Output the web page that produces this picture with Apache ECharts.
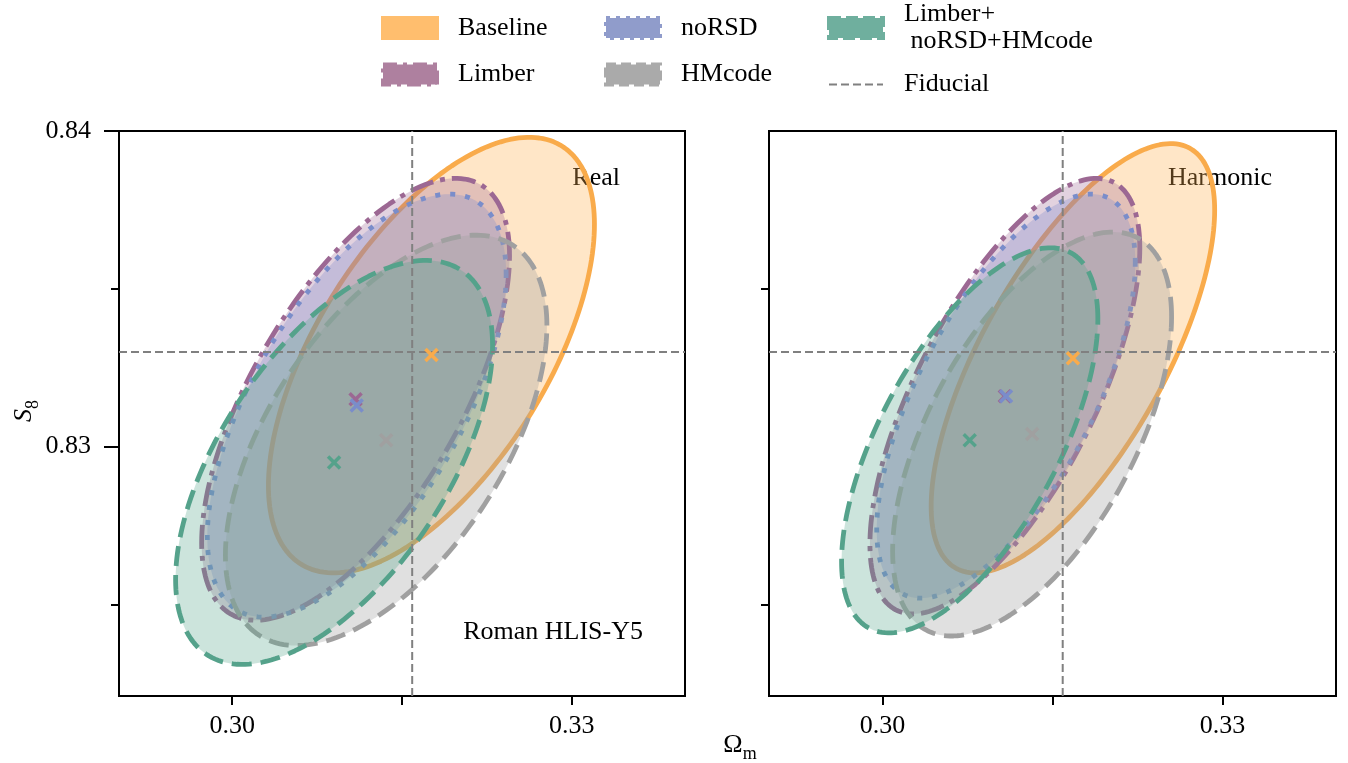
<!DOCTYPE html>
<html>
<head>
<meta charset="utf-8">
<title>S8 vs Omega_m forecasts</title>
<script src="https://cdn.jsdelivr.net/npm/echarts@6.0.0/dist/echarts.min.js"></script>
<style>
  html, body { margin: 0; padding: 0; background: #fff; }
  #chart { width: 1348px; height: 763px; }
</style>
</head>
<body>
<div id="chart"></div>
<script>
const FONT = '"Liberation Serif", "Times New Roman", serif';

// model names, in plotting / legend order
const modelNames = ['Baseline', 'Limber', 'noRSD', 'HMcode', 'Limber+\n noRSD+HMcode'];
const panelTitles = ['Real', 'Harmonic'];

const fiducialOm = 0.3159;
const fiducialS8 = 0.833;

// real-space panel: contour centres, half extents and correlation
const realOm = [0.3176, 0.3109, 0.3110, 0.3136, 0.3090];
const realS8 = [0.8329, 0.8315, 0.8313, 0.8302, 0.8295];
const realOmExtent = [0.0144, 0.0136, 0.0132, 0.0142, 0.0140];
const realS8Extent = [0.0069, 0.0070, 0.0067, 0.0065, 0.0064];
const realCorr = [0.60, 0.65, 0.62, 0.56, 0.58];

// harmonic-space panel
const harmOm = [0.3168, 0.3108, 0.3109, 0.3132, 0.3077];
const harmS8 = [0.8328, 0.8316, 0.8316, 0.8304, 0.8302];
const harmOmExtent = [0.0125, 0.0119, 0.0114, 0.0123, 0.0113];
const harmS8Extent = [0.0068, 0.0069, 0.0064, 0.0064, 0.0061];
const harmCorr = [0.69, 0.68, 0.66, 0.58, 0.63];

// axis ranges and ticks
const omRange = [0.29, 0.34];
const s8Range = [0.8221, 0.84];
const xTicks = [0.30, 0.315, 0.33];
const xTickLabels = [0.30, 0.33];
const yMajorTicks = [0.83, 0.84];
const yMinorTicks = [0.825, 0.835];

const edgeColors = ['#f9ab4b', '#9c6893', '#7a8dca', '#a0a0a0', '#55a28b'];
const fillColors = ['rgba(255,176,80,0.32)', 'rgba(160,105,150,0.30)', 'rgba(125,140,205,0.30)',
                    'rgba(160,160,160,0.33)', 'rgba(85,165,140,0.30)'];
const legendColors = ['#ffbe6e', '#ae809f', '#909ccb', '#aaaaaa', '#6faf9e'];
const dashes = [null, [24, 7, 5, 7], [5, 10], [20, 9], [20, 9]];
const legendDashes = ['solid', [14, 6, 4, 6], [4, 6], [10, 5], [12, 5]];

const panels = [
    { om: realOm, s8: realS8, wOm: realOmExtent, wS8: realS8Extent, corr: realCorr },
    { om: harmOm, s8: harmS8, wOm: harmOmExtent, wS8: harmS8Extent, corr: harmCorr }
];

function ellipseRenderer(k) {
    return function (params, api) {
        const cx = api.value(0), cy = api.value(1);
        const wx = api.value(2), wy = api.value(3), r = api.value(4);
        const q = Math.sqrt(1 - r * r);
        const pts = [];
        for (let i = 0; i < 200; i++) {
            const t = i / 200 * Math.PI * 2;
            pts.push(api.coord([cx + wx * Math.cos(t), cy + wy * (r * Math.cos(t) + q * Math.sin(t))]));
        }
        const style = { fill: fillColors[k], stroke: edgeColors[k], lineWidth: 4.8, lineCap: 'butt', lineJoin: 'round' };
        if (dashes[k]) style.lineDash = dashes[k];
        return { type: 'polygon', shape: { points: pts }, style: style };
    };
}

function crossRenderer(params, api) {
    const p = api.coord([api.value(0), api.value(1)]);
    const h = 6;
    const c = edgeColors[params.dataIndex];
    return {
        type: 'group',
        children: [
            { type: 'line', shape: { x1: p[0] - h, y1: p[1] - h, x2: p[0] + h, y2: p[1] + h }, style: { stroke: c, lineWidth: 3.5 } },
            { type: 'line', shape: { x1: p[0] - h, y1: p[1] + h, x2: p[0] + h, y2: p[1] - h }, style: { stroke: c, lineWidth: 3.5 } }
        ]
    };
}

const grids = [
    { left: 119, top: 131, width: 566, height: 565 },
    { left: 769, top: 131, width: 567, height: 565 }
].map(g => Object.assign(g, { show: true, borderColor: '#000', borderWidth: 2, backgroundColor: 'transparent' }));

const axisFont = { fontFamily: FONT, fontSize: 26, color: '#000' };

const xAxes = [0, 1].map(p => ({
    type: 'value', gridIndex: p, min: omRange[0], max: omRange[1],
    splitLine: { show: false },
    axisLine: { show: true, onZero: false, lineStyle: { color: '#000', width: 2 } },
    axisTick: { show: true, customValues: xTicks, length: 9, lineStyle: { color: '#000', width: 2 } },
    axisLabel: Object.assign({ customValues: xTickLabels, margin: 17, formatter: v => v.toFixed(2) }, axisFont)
}));

const yAxes = [];
[0, 1].forEach(p => {
    yAxes.push({
        type: 'value', gridIndex: p, min: s8Range[0], max: s8Range[1],
        splitLine: { show: false },
        axisLine: { show: true, onZero: false, lineStyle: { color: '#000', width: 2 } },
        axisTick: { show: p === 0, customValues: yMajorTicks, length: 15, lineStyle: { color: '#000', width: 2 } },
        axisLabel: Object.assign({ show: p === 0, customValues: yMajorTicks, margin: 28, formatter: v => v.toFixed(2) }, axisFont)
    });
    yAxes.push({
        type: 'value', gridIndex: p, min: s8Range[0], max: s8Range[1], position: 'left',
        splitLine: { show: false },
        axisLine: { show: false },
        axisTick: { show: true, customValues: yMinorTicks, length: 8, lineStyle: { color: '#000', width: 2 } },
        axisLabel: { show: false }
    });
});

const fiducialStyle = { color: '#808080', width: 2, type: [8, 4] };

const series = [];
panels.forEach((pan, p) => {
    modelNames.forEach((name, k) => {
        series.push({
            type: 'custom', name: name,
            xAxisIndex: p, yAxisIndex: 2 * p,
            renderItem: ellipseRenderer(k),
            itemStyle: { color: legendColors[k] },
            encode: { x: 0, y: 1 },
            data: [[pan.om[k], pan.s8[k], pan.wOm[k], pan.wS8[k], pan.corr[k]]],
            silent: true, z: 2
        });
    });
    // fiducial cross-hair, spanning the full axis ranges
    series.push({
        type: 'line', name: 'Fiducial',
        xAxisIndex: p, yAxisIndex: 2 * p,
        symbol: 'none', silent: true, z: 5,
        itemStyle: { color: '#808080' },
        lineStyle: fiducialStyle,
        data: [[fiducialOm, s8Range[0]], [fiducialOm, s8Range[1]]]
    });
    series.push({
        type: 'line', name: 'Fiducial',
        xAxisIndex: p, yAxisIndex: 2 * p,
        symbol: 'none', silent: true, z: 5,
        itemStyle: { color: '#808080' },
        lineStyle: fiducialStyle,
        data: [[omRange[0], fiducialS8], [omRange[1], fiducialS8]]
    });
    series.push({
        type: 'custom', name: 'best fit ' + panelTitles[p],
        xAxisIndex: p, yAxisIndex: 2 * p,
        renderItem: crossRenderer,
        encode: { x: 0, y: 1 },
        data: pan.om.map((v, k) => [v, pan.s8[k]]),
        silent: true, z: 6
    });
});

function legendItem(k) {
    return {
        name: modelNames[k], icon: 'rect',
        itemStyle: { color: legendColors[k], borderColor: legendColors[k], borderWidth: 4, borderType: legendDashes[k] }
    };
}

const legendBase = {
    orient: 'vertical', padding: 0, itemWidth: 54, itemHeight: 20, selectedMode: false,
    textStyle: { fontFamily: FONT, fontSize: 26, color: '#000', lineHeight: 28, padding: [0, 0, 0, 16] }
};

const legends = [
    Object.assign({}, legendBase, { left: 381, top: 14, itemGap: 18.5, data: [legendItem(0), legendItem(1)] }),
    Object.assign({}, legendBase, { left: 604, top: 14, itemGap: 18.5, data: [legendItem(2), legendItem(3)] }),
    Object.assign({}, legendBase, {
        left: 827, top: 1, itemGap: 16,
        textStyle: Object.assign({}, legendBase.textStyle, { lineHeight: 27 }),
        data: [legendItem(4), {
            name: 'Fiducial',
            itemStyle: { color: 'rgba(0,0,0,0)', borderWidth: 0, opacity: 0 },
            lineStyle: { color: '#808080', width: 2, type: [8, 4] }
        }]
    })
];

const textStyle = { fontFamily: FONT, fontSize: 26, fill: '#000' };

const graphics = [
    { type: 'text', x: 620, y: 178, style: Object.assign({ text: panelTitles[0], align: 'right', verticalAlign: 'middle' }, textStyle) },
    { type: 'text', x: 1272, y: 178, style: Object.assign({ text: panelTitles[1], align: 'right', verticalAlign: 'middle' }, textStyle) },
    { type: 'text', x: 643, y: 632, style: Object.assign({ text: 'Roman HLIS-Y5', align: 'right', verticalAlign: 'middle' }, textStyle) },
    {
        type: 'text', x: 740, y: 745,
        style: {
            text: '{a|Ω}{b|m}', align: 'center', verticalAlign: 'middle',
            rich: {
                a: { fontFamily: FONT, fontSize: 26, fill: '#000', lineHeight: 36, verticalAlign: 'middle' },
                b: { fontFamily: FONT, fontSize: 18, fill: '#000', lineHeight: 18, verticalAlign: 'bottom' }
            }
        }
    },
    {
        type: 'text', x: 24, y: 411, rotation: Math.PI / 2,
        style: {
            text: '{a|S}{b|8}', align: 'center', verticalAlign: 'middle',
            rich: {
                a: { fontFamily: FONT, fontStyle: 'italic', fontSize: 26, fill: '#000', lineHeight: 36, verticalAlign: 'middle' },
                b: { fontFamily: FONT, fontSize: 18, fill: '#000', lineHeight: 18, verticalAlign: 'bottom' }
            }
        }
    }
];

const chart = echarts.init(document.getElementById('chart'));
chart.setOption({
    animation: false,
    backgroundColor: '#fff',
    grid: grids,
    xAxis: xAxes,
    yAxis: yAxes,
    legend: legends,
    graphic: graphics,
    series: series
});
</script>
</body>
</html>
